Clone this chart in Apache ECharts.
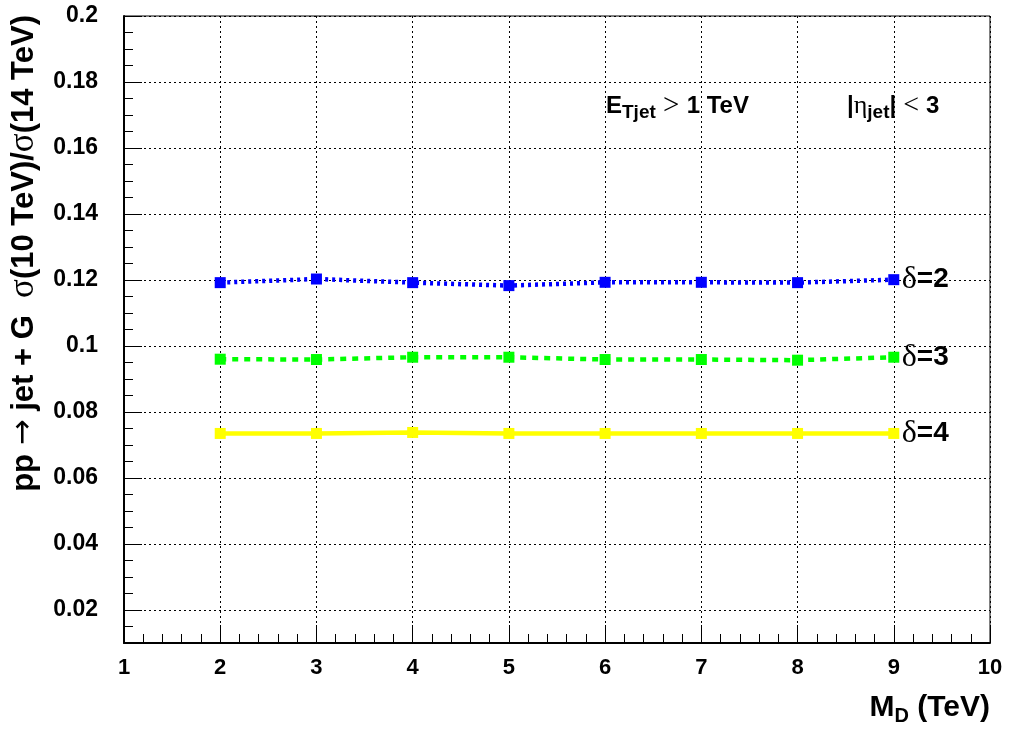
<!DOCTYPE html>
<html>
<head>
<meta charset="utf-8">
<script src="https://cdn.jsdelivr.net/npm/echarts@6/dist/echarts.min.js"></script>
<style>html,body{margin:0;padding:0;background:#fff}#c{width:1009px;height:732px}</style>
</head>
<body>
<div id="c"></div>
<script>
const xValues = [2, 3, 4, 5, 6, 7, 8, 9];
const delta2 = [0.1192, 0.1203, 0.1192, 0.1183, 0.1193, 0.1193, 0.1192, 0.1201];
const delta3 = [0.0960, 0.0959, 0.0966, 0.0966, 0.0959, 0.0959, 0.0957, 0.0966];
const delta4 = [0.0735, 0.0735, 0.0738, 0.0735, 0.0735, 0.0735, 0.0735, 0.0735];
const yMajorTicks = [0.02, 0.04, 0.06, 0.08, 0.1, 0.12, 0.14, 0.16, 0.18, 0.2];
const yMinorTicks = [0.01, 0.015, 0.02, 0.025, 0.03, 0.035, 0.04, 0.045, 0.05, 0.055, 0.06, 0.065, 0.07, 0.075, 0.08, 0.085, 0.09, 0.095, 0.1, 0.105, 0.11, 0.115, 0.12, 0.125, 0.13, 0.135, 0.14, 0.145, 0.15, 0.155, 0.16, 0.165, 0.17, 0.175, 0.18, 0.185, 0.19, 0.195, 0.2];

const F = 'Liberation Sans, Arial, sans-serif';
const pair = arr => xValues.map((x, i) => [x, arr[i]]);
const gridLine = { show: true, lineStyle: { color: '#000', width: 1, type: [2, 3] } };

function mk(name, data, color, type, label) {
  return {
    name, type: 'line', data: pair(data),
    symbol: 'rect', symbolSize: 11,
    itemStyle: { color },
    lineStyle: { color, width: 4.5, type },
    z: 3,
    endLabel: {
      show: true, formatter: label, distance: 8,
      fontFamily: F, fontSize: 27, fontWeight: 'bold', color: '#000',
      rich: { d: { fontFamily: 'Liberation Serif, serif', fontSize: 32, color: '#000', fontWeight: 'normal' },
              t: { fontFamily: F, fontSize: 28, fontWeight: 'bold', color: '#000' } }
    },
    animation: false
  };
}

const chart = echarts.init(document.getElementById('c'));
chart.setOption({
  animation: false,
  backgroundColor: '#fff',
  grid: { left: 124, right: 19, top: 16, bottom: 89, show: true, borderColor: '#000', borderWidth: 1, backgroundColor: 'transparent' },
  xAxis: {
    type: 'value', min: 1, max: 10, interval: 1,
    axisLine: { show: true, onZero: false, lineStyle: { color: '#000', width: 2 } },
    axisTick: { show: true, inside: true, length: 18, lineStyle: { color: '#000', width: 1 } },
    minorTick: { show: true, splitNumber: 5, length: 9, lineStyle: { color: '#000', width: 1 } },
    axisLabel: { fontFamily: F, fontSize: 22, fontWeight: 'bold', color: '#000', margin: 14 },
    splitLine: gridLine
  },
  yAxis: [{
    type: 'value', min: 0.01, max: 0.2,
    axisLine: { show: true, onZero: false, lineStyle: { color: '#000', width: 2 } },
    axisTick: { show: true, inside: true, length: 18, customValues: yMajorTicks, lineStyle: { color: '#000', width: 1 } },
    axisLabel: { customValues: yMajorTicks, fontFamily: F, fontSize: 23, fontWeight: 'bold', color: '#000', margin: 26,
      formatter: v => String(+(+v).toFixed(3))
    },
    splitLine: gridLine
  }, {
    type: 'value', min: 0.01, max: 0.2, position: 'left',
    axisLine: { show: false },
    axisTick: { show: true, inside: true, length: 9, customValues: yMinorTicks, lineStyle: { color: '#000', width: 1 } },
    axisLabel: { show: false },
    splitLine: { show: false }
  }],
  series: [
    mk('d2', delta2, '#0000ff', [3, 4], '{d|δ}{t|=2}'),
    mk('d3', delta3, '#00ff00', [6, 6], '{d|δ}{t|=3}'),
    mk('d4', delta4, '#ffff00', 'solid', '{d|δ}{t|=4}')
  ],
  graphic: [
    {
      type: 'text', x: 24, y: 15, rotation: Math.PI / 2,
      style: {
        text: '{b|pp }{s|→}{b| jet + G  }{g|σ}{b|(10 TeV)/}{g|σ}{b|(14 TeV)}',
        align: 'right', verticalAlign: 'middle',
        rich: {
          b: { fontFamily: F, fontSize: 31, fontWeight: 'bold', fill: '#000' },
          s: { fontFamily: 'DejaVu Sans, sans-serif', fontSize: 31, fill: '#000' },
          g: { fontFamily: 'Liberation Serif, serif', fontSize: 35, fill: '#000' }
        }
      }
    },
    {
      type: 'text', x: 990, y: 708,
      style: {
        text: '{b|M}{sub|D}{b| (TeV)}', align: 'right', verticalAlign: 'middle',
        rich: {
          b: { fontFamily: F, fontSize: 30, fontWeight: 'bold', fill: '#000', lineHeight: 36 },
          sub: { fontFamily: F, fontSize: 20, fontWeight: 'bold', fill: '#000', lineHeight: 36, padding: [16, 0, 0, 0] }
        }
      }
    },
    {
      type: 'text', x: 606, y: 106,
      style: {
        text: '{b|E}{sub|Tjet}{n| > }{b|1 TeV}', align: 'left', verticalAlign: 'middle',
        rich: {
          b: { fontFamily: F, fontSize: 24, fontWeight: 'bold', fill: '#000', lineHeight: 30 },
          n: { fontFamily: 'Liberation Serif, serif', fontSize: 29, fill: '#000', lineHeight: 30 },
          sub: { fontFamily: F, fontSize: 19, fontWeight: 'bold', fill: '#000', lineHeight: 30, padding: [14, 0, 0, 0] }
        }
      }
    },
    {
      type: 'text', x: 847, y: 106,
      style: {
        text: '{b||}{g|η}{sub|jet}{b||}{n| < }{b|3}', align: 'left', verticalAlign: 'middle',
        rich: {
          b: { fontFamily: F, fontSize: 24, fontWeight: 'bold', fill: '#000', lineHeight: 30 },
          g: { fontFamily: 'Liberation Serif, serif', fontSize: 26, fill: '#000', lineHeight: 30 },
          n: { fontFamily: 'Liberation Serif, serif', fontSize: 28, fill: '#000', lineHeight: 30 },
          sub: { fontFamily: F, fontSize: 19, fontWeight: 'bold', fill: '#000', lineHeight: 30, padding: [14, 0, 0, 0] }
        }
      }
    }
  ]
});
</script>
</body>
</html>
